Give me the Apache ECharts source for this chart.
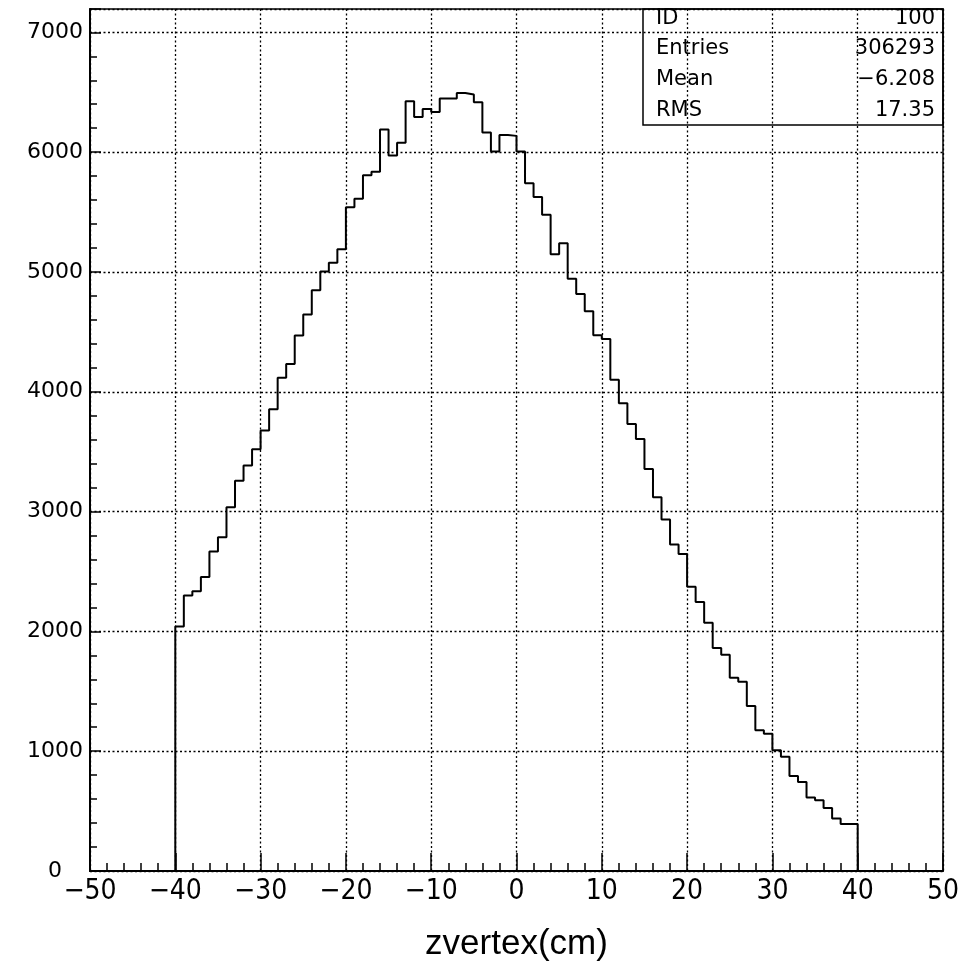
<!DOCTYPE html>
<html>
<head>
<meta charset="utf-8">
<script src="https://cdn.jsdelivr.net/npm/echarts@6/dist/echarts.min.js"></script>
<style>
html,body{margin:0;padding:0;background:#fff;}
#chart{width:963px;height:968px;}
</style>
</head>
<body>
<div id="chart"></div>
<script>
// Histogram: zvertex(cm), bins of width 1 from -40 to 40
const binStart = -40;
const binWidth = 1;
const counts = [
  2040, 2300, 2335, 2455, 2667, 2786, 3036, 3258, 3385, 3520,
  3676, 3855, 4118, 4232, 4470, 4645, 4847, 5003, 5078, 5189,
  5540, 5612, 5808, 5836, 6189, 5972, 6078, 6425, 6294, 6361,
  6336, 6447, 6447, 6494, 6481, 6417, 6165, 6005, 6143, 6136,
  6005, 5740, 5625, 5478, 5147, 5239, 4944, 4817, 4672, 4472,
  4440, 4100, 3905, 3731, 3606, 3356, 3119, 2933, 2725, 2647,
  2373, 2245, 2072, 1862, 1805, 1613, 1580, 1378, 1174, 1146,
  1008, 953, 793, 743, 613, 591, 525, 439, 392, 392
];
const xTicks = [-50, -40, -30, -20, -10, 0, 10, 20, 30, 40, 50];
const yTicks = [0, 1000, 2000, 3000, 4000, 5000, 6000, 7000];
const statsLabels = ['ID', 'Entries', 'Mean', 'RMS'];
const statsValues = ['100', '306293', '\u22126.208', '17.35'];
const xTitle = 'zvertex(cm)';

// step path points
const pts = [[binStart, 0]];
counts.forEach((v, i) => pts.push([binStart + i * binWidth, v]));
pts.push([binStart + counts.length * binWidth, 0]);

const chart = echarts.init(document.getElementById('chart'), null, {renderer: 'canvas'});

const gridL = 90, gridR = 20, gridT = 9, gridB = 97;
const boxL = 643, boxR = 943, boxT = 9, boxB = 125;
const rowY = [19, 49, 80, 111];

const graphics = [{
  type: 'rect',
  shape: {x: boxL, y: boxT, width: boxR - boxL, height: boxB - boxT},
  style: {fill: 'rgba(0,0,0,0)', stroke: '#000', lineWidth: 1.5},
  z: 10
}];
statsLabels.forEach((t, i) => {
  graphics.push({type: 'text', x: boxL + 13, y: rowY[i], z: 11,
    style: {text: t, font: '21px "DejaVu Sans"', fill: '#000', verticalAlign: 'middle'}});
  graphics.push({type: 'text', x: boxR - 8, y: rowY[i], z: 11,
    style: {text: statsValues[i], font: '21px "DejaVu Sans"', fill: '#000', align: 'right', verticalAlign: 'middle'}});
});

const option = {
  animation: false,
  backgroundColor: '#fff',
  grid: {left: gridL, right: gridR, top: gridT, bottom: gridB, show: true, borderColor: '#000', borderWidth: 1.5,
         containLabel: false, outerBoundsMode: 'none'},
  xAxis: {
    type: 'value', min: xTicks[0], max: xTicks[xTicks.length - 1], interval: 10,
    name: xTitle, nameLocation: 'middle', nameGap: 56,
    nameTextStyle: {fontFamily: 'Liberation Sans', fontSize: 35, color: '#000'},
    axisLine: {show: true, onZero: false, lineStyle: {color: '#000', width: 2}},
    axisTick: {show: true, inside: true, length: 18, lineStyle: {color: '#000', width: 1.5}},
    minorTick: {show: true, splitNumber: 5, length: 8, lineStyle: {color: '#000', width: 1.5}},
    axisLabel: {
      color: '#000', fontFamily: '"Liberation Sans Narrow", "DejaVu Sans Condensed", "Liberation Sans"', fontSize: 28, margin: 7,
      formatter: v => (v < 0 ? '\u2212' + Math.abs(v) : String(v))
    },
    splitLine: {show: true, lineStyle: {color: '#000', width: 1.3, type: [2, 2.5]}},
    minorSplitLine: {show: false}
  },
  yAxis: {
    type: 'value', min: yTicks[0], max: 7195, interval: 1000,
    axisLine: {show: true, onZero: false, lineStyle: {color: '#000', width: 2}},
    axisTick: {show: true, inside: true, length: 11, lineStyle: {color: '#000', width: 1.5}},
    minorTick: {show: true, splitNumber: 5, length: 7, lineStyle: {color: '#000', width: 1.5}},
    axisLabel: {
      color: '#000', fontFamily: '"DejaVu Sans"', fontSize: 22, margin: 35, align: 'center',
      showMaxLabel: false,
      formatter: v => (yTicks.indexOf(v) >= 0 ? String(v) : '')
    },
    splitLine: {show: true, lineStyle: {color: '#000', width: 1.3, type: [2, 2.5]}}
  },
  series: [{
    type: 'line',
    step: 'end',
    data: pts,
    symbol: 'none',
    lineStyle: {color: '#000', width: 2},
    z: 5
  }],
  graphic: graphics
};
chart.setOption(option);
</script>
</body>
</html>
